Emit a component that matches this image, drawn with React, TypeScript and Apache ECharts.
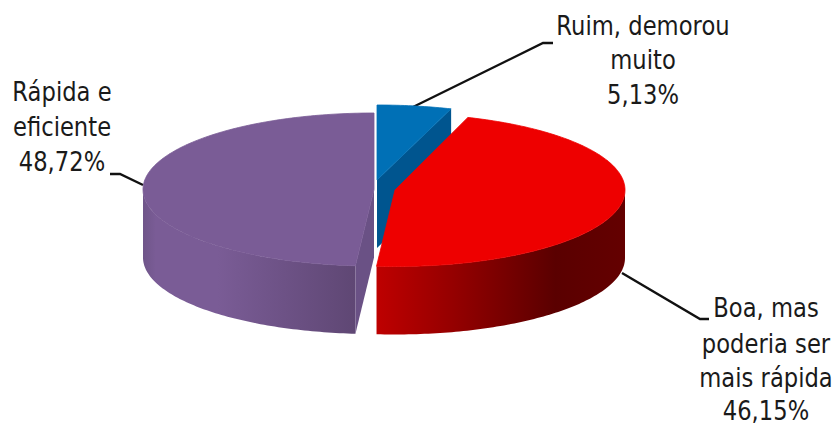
import React, { useEffect, useRef } from "react";
import * as echarts from "echarts";

// Answer shares, clockwise from twelve o'clock.
const categories = ["Ruim, demorou muito", "Boa, mas poderia ser mais rápida", "Rápida e eficiente"];
const shares = [5.13, 46.15, 48.72];
const labelLines = [["Ruim, demorou", "muito"], ["Boa, mas", "poderia ser", "mais rápida"], ["Rápida e", "eficiente"]];

const topColors = ["#0070B6", "#EE0000", "#7A5C96"];
const cutColors = ["#00558F", "#A80000", "#6A5185"];
const wallStops: [number, string][][] = [
  [[0, "#00558F"], [1, "#00558F"]],
  [[0, "#BE0000"], [0.3, "#960000"], [0.72, "#5A0000"], [1, "#640000"]],
  [[0, "#6F5589"], [0.06, "#7A5C96"], [0.35, "#7A5C96"], [1, "#5F4774"]],
];

// Exploded centre of each slice's top face.
const centres = [[377, 180], [395, 190], [374, 189.5]];
const radiusX = [234, 230, 231];
const radiusY = [75, 76.5, 76.5];
const depth = 68;

const leaderLines = [
  [[413, 107], [543, 43], [553, 43]],
  [[622, 273], [700, 319], [709, 319]],
  [[143, 185], [120, 174], [110, 174]],
];
const labelCentres = [643, 766, 62];
const labelBaselines = [[37, 71, 106], [319, 355, 389, 422], [103, 138, 173]];

const FONT_SIZE = 27;
const TEXT_SCALE_X = 0.84;

const percentText = (v: number) => v.toFixed(2).replace(".", ",") + "%";

function rimPoint(i: number, deg: number) {
  const t = (deg * Math.PI) / 180;
  return [
    centres[i][0] + radiusX[i] * Math.sin(t),
    centres[i][1] - radiusY[i] * Math.cos(t),
  ];
}

function arcPoints(i: number, from: number, to: number) {
  const pts: number[][] = [];
  const n = Math.max(2, Math.ceil(Math.abs(to - from)));
  for (let k = 0; k <= n; k++) pts.push(rimPoint(i, from + ((to - from) * k) / n));
  return pts;
}

function renderSlice(params: any) {
  const i = params.dataIndex;
  const total = shares.reduce((a, b) => a + b, 0);
  const start = (shares.slice(0, i).reduce((a, b) => a + b, 0) / total) * 360;
  const end = start + (shares[i] / total) * 360;
  const centre = centres[i];
  const children: any[] = [];

  // Outer wall: only the part of the rim that faces the viewer.
  const from = Math.max(start, 90);
  const to = Math.min(end, 270);
  if (to > from) {
    const rim = arcPoints(i, from, to);
    const lower = rim.map(([x, y]) => [x, y + depth]).reverse();
    children.push({
      type: "polygon",
      shape: { points: [...rim, ...lower] },
      style: {
        fill: new echarts.graphic.LinearGradient(
          0, 0, 1, 0,
          wallStops[i].map(([offset, color]) => ({ offset, color }))
        ),
      },
    });
  }

  // Cut faces that stay visible: blue's trailing face and purple's leading face.
  if (i === 0 || i === 2) {
    const p = rimPoint(i, i === 0 ? end : start);
    children.push({
      type: "polygon",
      shape: { points: [centre, p, [p[0], p[1] + depth], [centre[0], centre[1] + depth]] },
      style: { fill: cutColors[i] },
    });
  }

  // A hairline in the face colour closes the seam against the wall below it.
  children.push({
    type: "polygon",
    shape: { points: [centre, ...arcPoints(i, start, end)] },
    style: { fill: topColors[i], stroke: topColors[i], lineWidth: 0.8 },
  });

  return { type: "group", children };
}

function labelGraphics() {
  const elements: any[] = [];
  shares.forEach((share, i) => {
    const lines = [...labelLines[i], percentText(share)];
    lines.forEach((line, k) => {
      elements.push({
        type: "text",
        x: labelCentres[i],
        y: labelBaselines[i][k] + 2,
        scaleX: TEXT_SCALE_X,
        style: {
          text: line,
          fill: "#1A1A1A",
          font: `${FONT_SIZE}px "DejaVu Sans"`,
          align: "center",
          verticalAlign: "bottom",
        },
      });
    });
    elements.push({
      type: "polyline",
      shape: { points: leaderLines[i] },
      style: { stroke: "#111111", lineWidth: 2.4, fill: "none" },
      z: -1,
    });
  });
  return elements;
}

export default function App() {
  const ref = useRef<HTMLDivElement>(null);
  useEffect(() => {
    const chart = echarts.init(ref.current!, undefined, { renderer: "svg" });
    chart.setOption({
      animation: false,
      backgroundColor: "#FFFFFF",
      series: [
        {
          type: "custom",
          coordinateSystem: "none",
          renderItem: renderSlice,
          data: categories.map((name, i) => ({ name, value: shares[i] })),
          silent: true,
          z: 2,
        },
      ],
      graphic: { elements: labelGraphics() },
    });
    return () => chart.dispose();
  }, []);
  return <div ref={ref} style={{ position: "absolute", left: 0, top: 0, width: 836, height: 428 }} />;
}
